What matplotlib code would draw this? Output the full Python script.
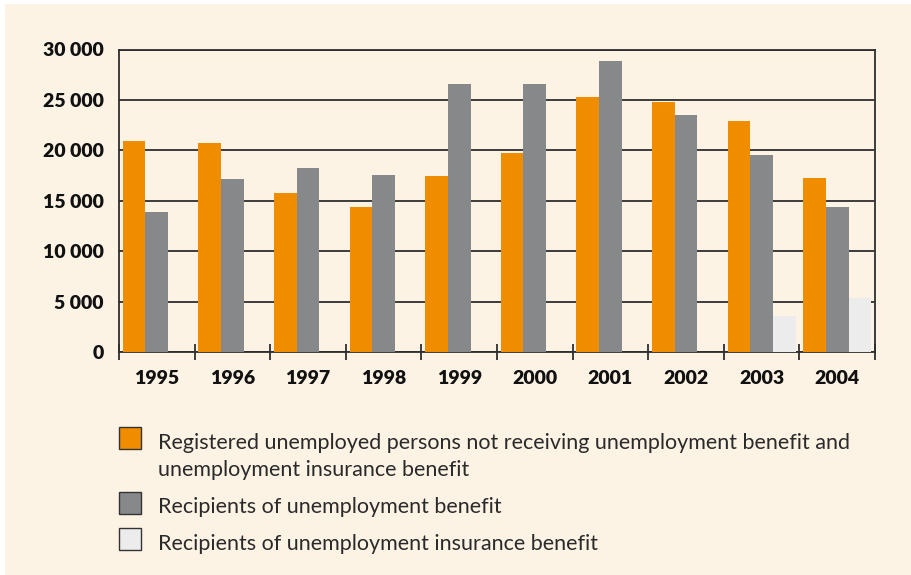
import matplotlib.pyplot as plt
import numpy as np
from matplotlib.patches import Rectangle

# data
years = ['1995', '1996', '1997', '1998', '1999', '2000', '2001', '2002', '2003', '2004']
not_receiving = [20950, 20750, 15800, 14400, 17450, 19750, 25250, 24750, 22950, 17250]
unemp_benefit = [13900, 17200, 18250, 17550, 26600, 26600, 28900, 23550, 19550, 14400]
insurance_benefit = [np.nan] * 8 + [3600, 5350]
yticks = [0, 5000, 10000, 15000, 20000, 25000, 30000]

labels = ['Registered unemployed persons not receiving unemployment benefit and\nunemployment insurance benefit',
          'Recipients of unemployment benefit',
          'Recipients of unemployment insurance benefit']

orange = '#f08c00'
grey = '#87888a'
light = '#ececec'
cream = '#fdf3e5'
dark = '#2e2e2e'

W, H = 912, 575
fig = plt.figure(figsize=(W / 100, H / 100), dpi=100)
fig.patch.set_facecolor('white')
# cream panel, white strip on left/top
fig.patches.append(Rectangle((5 / W, 0), 1, 1 - 4 / H, transform=fig.transFigure,
                             facecolor=cream, edgecolor='none', zorder=-10))

ax = fig.add_axes([119 / W, 1 - 352 / H, (875 - 119) / W, (352 - 49.5) / H])
ax.set_facecolor(cream)

x = np.arange(len(years))
w = 0.3
ax.bar(x - w, not_receiving, w, color=orange, zorder=3)
ax.bar(x, unemp_benefit, w, color=grey, zorder=3)
ax.bar(x + w, insurance_benefit, w, color=light, zorder=3)

ax.set_xlim(-0.5, len(years) - 0.5)
ax.set_ylim(0, 30000)
ax.set_yticks(yticks)
ax.set_yticklabels([f'{v:,}'.replace(',', ' ') for v in yticks])
ax.yaxis.grid(True, color=dark, lw=1.3)
ax.set_axisbelow(True)

ax.set_xticks(x)
ax.set_xticklabels(years)
ax.set_xticks(np.arange(-0.5, len(years)), minor=True)
ax.tick_params(axis='x', which='major', length=0, pad=13)
ax.tick_params(axis='x', which='minor', direction='inout', length=11, width=1.3, color=dark)
ax.tick_params(axis='y', length=0, pad=11)
for lab in ax.get_xticklabels() + ax.get_yticklabels():
    lab.set_fontfamily('Lato')
    lab.set_fontweight('heavy')
    lab.set_fontsize(14)
    lab.set_color('#111111')

for s in ax.spines.values():
    s.set_color(dark)
    s.set_linewidth(1.3)

# legend, drawn by hand in pixel positions
colors = [orange, grey, light]
box_tops = [427, 492, 528]
baselines = [[449, 476], [513], [550]]
for c, top, bl, lab in zip(colors, box_tops, baselines, labels):
    fig.patches.append(Rectangle((119 / W, 1 - (top + 22) / H), 22 / W, 22 / H,
                                 transform=fig.transFigure, facecolor=c,
                                 edgecolor='#333333', lw=1.0))
    for line, b in zip(lab.split('\n'), bl):
        fig.text(158 / W, 1 - b / H, line, fontsize=15.5, family='Lato',
                 fontweight='normal', color='#2a2a2a', va='baseline', ha='left')

plt.savefig('out.png', dpi=100, facecolor=fig.get_facecolor())
